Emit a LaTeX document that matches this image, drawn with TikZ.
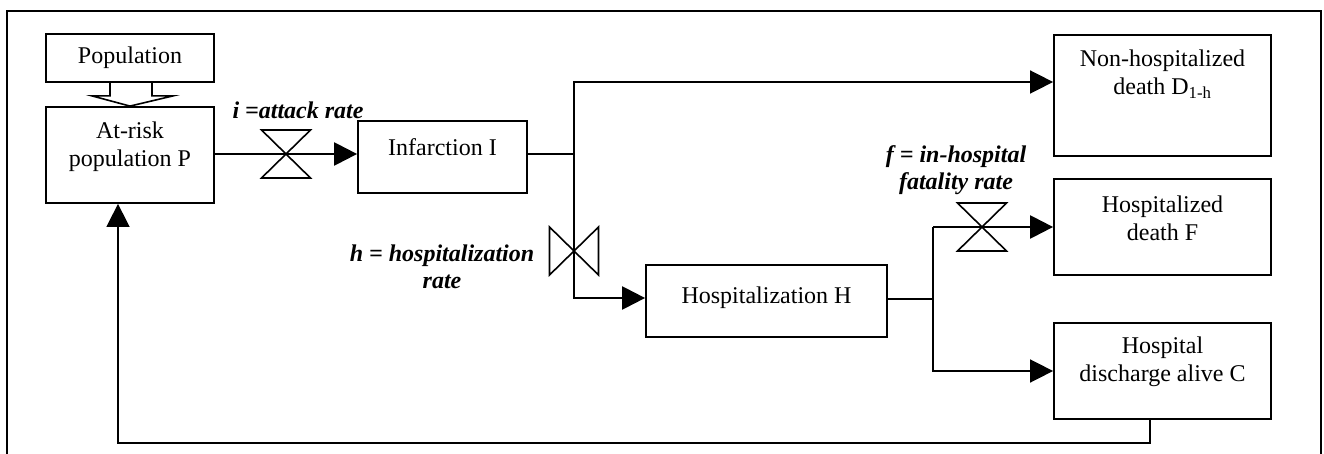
\documentclass[tikz,border=0pt]{standalone}
\usepackage{fontspec}
\setmainfont{Liberation Serif}
\usetikzlibrary{arrows.meta,calc}
\begin{document}
\begin{tikzpicture}[x=1pt,y=-1pt,
  box/.style={draw,line width=1.8pt,inner sep=0pt},
  txt/.style={font=\fontsize{24}{28}\selectfont,align=center,inner sep=0pt},
  lbl/.style={font=\fontsize{24}{27}\selectfont\bfseries\itshape,align=center,inner sep=0pt},
  flow/.style={line width=2.4pt},
  link/.style={line width=1.6pt},
  arr/.style={-{Triangle[length=23pt,width=23pt]}},
  valveh/.pic={\draw[line width=1.6pt] (-24.5,-24)--(24.5,-24)--(-24.5,24)--(24.5,24)--cycle;},
  valvev/.pic={\draw[line width=1.6pt] (-24.5,-24)--(-24.5,24)--(24.5,-24)--(24.5,24)--cycle;}]
\useasboundingbox (0,0) rectangle (1324,454);
% frame
\draw[line width=2.2pt] (7,454) -- (7,11) -- (1321,11) -- (1321,454);
% boxes
\node[box,minimum width=168pt,minimum height=48pt] (pop) at (130,58) {};
\node[box,minimum width=168pt,minimum height=96pt] (atrisk) at (130,155) {};
\node[box,minimum width=169pt,minimum height=72pt] (inf) at (442.5,157) {};
\node[box,minimum width=241pt,minimum height=72pt] (hosp) at (766.5,301) {};
\node[box,minimum width=217pt,minimum height=121pt] (nonhosp) at (1162.5,95.5) {};
\node[box,minimum width=217pt,minimum height=96pt] (hdeath) at (1162.5,227) {};
\node[box,minimum width=217pt,minimum height=96pt] (disch) at (1162.5,371) {};
% texts
\node[txt] (tpop) at (130,58) {Population};
\node[txt] (tatrisk) at (130,147) {At-risk\\population P};
\node[txt] (tinf) at (442.5,147) {Infarction I};
\node[txt] (thosp) at (766.5,298) {Hospitalization H};
\node[txt] (tnonhosp) at (1162.5,74) {Non-hospitalized\\death D\textsubscript{1-h}};
\node[txt] (thdeath) at (1162.5,218) {Hospitalized\\death F};
\node[txt] (tdisch) at (1162.5,362) {Hospital\\discharge alive C};
% labels
\node[lbl] (li) at (298,110) {i =attack rate};
\node[lbl] (lh) at (442,266.5) {h = hospitalization\\rate};
\node[lbl] (lf) at (956,170.5) {f = in-hospital\\fatality rate};
% population hollow arrow
\draw[link,line join=miter] ($(pop.south)+(-20,0)$) -- ++(0,13) -- ++(-18,0) -- ($(atrisk.north)$) -- ($(pop.south)+(43,13)$) -- ++(-21,0) -- ++(0,-13);
% coordinates
\coordinate (j1) at (574,154);
\coordinate (t1) at (574,82);
\coordinate (r2) at (574,298);
\coordinate (j2) at (933,299);
\coordinate (t2) at (933,227);
\coordinate (b2) at (933,371);
\coordinate (fb1) at (1150,443);
\coordinate (fb2) at (118,443);
% flows
\draw[flow,arr] (atrisk.east |- j1) -- (inf.west |- j1);
\draw[flow,arr] (inf.east |- j1) -- (j1) -- (r2) -- (hosp.west |- r2);
\draw[link,arr] (j1) -- (t1) -- (nonhosp.west |- t1);
\draw[flow] (hosp.east |- j2) -- (j2) -- (t2);
\draw[flow,arr] (t2) -- (hdeath.west |- t2);
\draw[link,arr] (j2) -- (b2) -- (disch.west |- b2);
\draw[link,arr] (fb1 |- disch.south) -- (fb1) -- (fb2) -- (fb2 |- atrisk.south);
% valves
\pic at (286,154) {valveh};
\pic at (574,251) {valvev};
\pic at (982,227) {valveh};
\end{tikzpicture}
\end{document}
